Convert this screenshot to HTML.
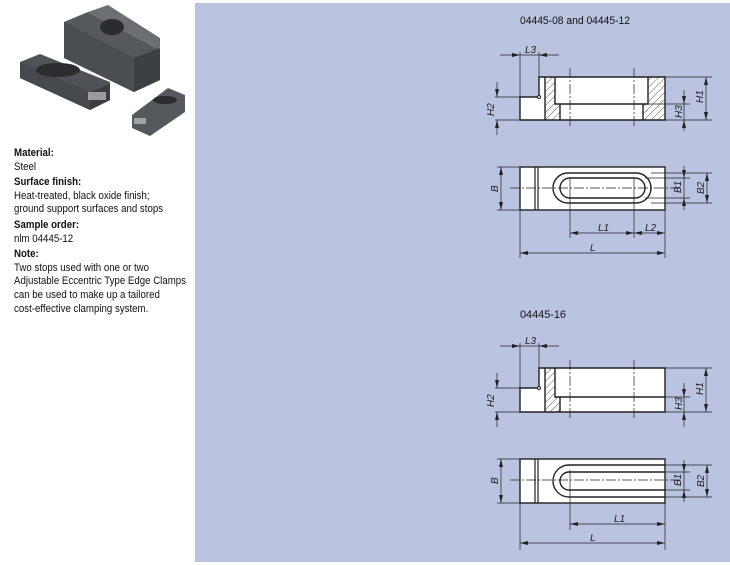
<!DOCTYPE html>
<html><head><meta charset="utf-8"><style>
body{margin:0;width:730px;height:565px;background:#fff;position:relative;overflow:hidden;font-family:"Liberation Sans",sans-serif;}
#panel{position:absolute;left:195px;top:3px;width:535px;height:559px;background:#bac4e1;}
#txt{position:absolute;left:14px;top:145px;font-size:11px;line-height:13.6px;color:#111;transform:scaleX(0.88);transform-origin:0 0;white-space:nowrap;}
#txt b{display:block;margin-top:2px;}
svg{position:absolute;left:0;top:0;}
</style></head><body>
<div id="panel"></div>
<svg width="195" height="145" viewBox="0 0 195 145">
 <polygon points="64,22 88,12 160,50 160,80 134,92 64,58" fill="#55585c"/>
 <polygon points="88,12 108,5 160,38 160,50" fill="#6b6e72"/>
 <polygon points="64,22 134,58 134,92 64,58" fill="#4a4d51"/>
 <polygon points="134,58 160,48 160,80 134,92" fill="#3c3f43"/>
 <ellipse cx="112" cy="27" rx="12" ry="8" fill="#2a2c2f"/>
 <polygon points="20,62 40,54 110,82 110,100 90,110 20,78" fill="#4f5256"/>
 <polygon points="20,62 90,92 90,110 20,78" fill="#45484c"/>
 <polygon points="90,92 110,84 110,100 90,110" fill="#3a3d41"/>
 <ellipse cx="58" cy="70" rx="22" ry="7" fill="#2b2d30"/>
 <rect x="88" y="92" width="18" height="8" fill="#9a9c9e"/>
 <polygon points="132,115 168,88 185,95 185,112 150,136 132,128" fill="#55585c"/>
 <ellipse cx="165" cy="100" rx="12" ry="4" fill="#2b2d30"/>
 <rect x="134" y="118" width="12" height="6" fill="#a0a2a4"/>
</svg>
<div id="txt">
<b>Material:</b>Steel
<b>Surface finish:</b>Heat-treated, black oxide finish;<br>ground support surfaces and stops
<b>Sample order:</b>nlm 04445-12
<b>Note:</b>Two stops used with one or two<br>Adjustable Eccentric Type Edge Clamps<br>can be used to make up a tailored<br>cost-effective clamping system.
</div>
<svg width="730" height="565" viewBox="0 0 730 565" font-family="Liberation Sans, sans-serif" font-size="10">
<defs>
<pattern id="h" width="5" height="5" patternUnits="userSpaceOnUse" patternTransform="rotate(45)"><line x1="0" y1="0" x2="0" y2="5" stroke="#333" stroke-width="0.8"/></pattern>
<marker id="a" markerWidth="8" markerHeight="6" refX="8" refY="3" orient="auto-start-reverse" markerUnits="userSpaceOnUse"><path d="M0,1 L8,3 L0,5Z" fill="#222"/></marker>
</defs>
<text x="520" y="24" font-size="11" fill="#111" textLength="110" lengthAdjust="spacingAndGlyphs">04445-08 and 04445-12</text>
<text x="520" y="318" font-size="11" fill="#111" textLength="46" lengthAdjust="spacingAndGlyphs">04445-16</text>
<g stroke="#222" fill="none">
<!-- TOP side view -->
<path d="M520,97 H539 V77 H665 V120 H520 Z" fill="#fff" stroke="none"/>
<rect x="545" y="77" width="10" height="43" fill="url(#h)" stroke="none"/>
<rect x="555" y="104" width="5" height="16" fill="url(#h)" stroke="none"/>
<rect x="648" y="77" width="17" height="43" fill="url(#h)" stroke="none"/>
<rect x="643" y="104" width="5" height="16" fill="url(#h)" stroke="none"/>
<path d="M520,97 H539 V77 H665 V120 H520 Z M555,77 V104 H648 V77 M560,120 V104 M643,120 V104 M545,77 V120" stroke-width="1.4"/>
<circle cx="539" cy="97" r="1.5" fill="#fff" stroke-width="1"/>
<g stroke-width="0.7">
<path d="M570,68 V128 M634,68 V128" stroke-dasharray="10,2,2,2"/>
<path d="M520,52 V97 M539,52 V77 M495,97 H520 M495,120 H520 M665,77 H712 M665,120 H712 M643,104 H690"/>
<path d="M500,55 H520" marker-end="url(#a)"/><path d="M559,55 H539" marker-end="url(#a)"/><path d="M520,55 H539"/>
<path d="M497,82 V97" marker-end="url(#a)"/><path d="M497,135 V120" marker-end="url(#a)"/>
<path d="M706,77 V120" marker-start="url(#a)" marker-end="url(#a)"/>
<path d="M684,90 V104" marker-end="url(#a)"/><path d="M684,131 V120" marker-end="url(#a)"/><path d="M684,104 V120"/>
</g>
<!-- TOP plan -->
<rect x="520" y="167" width="145" height="43" fill="#fff" stroke-width="1.4"/>
<path d="M535,167 V210 M538,167 V210" stroke-width="1.2"/>
<rect x="553" y="173" width="98" height="30" rx="15" stroke-width="1.4"/>
<rect x="560" y="178" width="85" height="20" rx="10" stroke-width="1.4"/>
<g stroke-width="0.7">
<path d="M510,188 H680" stroke-dasharray="10,2,2,2"/>
<path d="M570,178 V238 M634,178 V238 M520,210 V258 M665,210 V258"/>
<path d="M497,167 H520 M497,210 H520 M645,178 H690 M645,198 H690 M651,173 H712 M651,203 H712"/>
<path d="M501,167 V210" marker-start="url(#a)" marker-end="url(#a)"/>
<path d="M684,166 V178" marker-end="url(#a)"/><path d="M684,210 V198" marker-end="url(#a)"/><path d="M684,178 V198"/>
<path d="M707,173 V203" marker-start="url(#a)" marker-end="url(#a)"/>
<path d="M570,233 H634" marker-start="url(#a)" marker-end="url(#a)"/>
<path d="M634,233 H665" marker-start="url(#a)" marker-end="url(#a)"/>
<path d="M520,253 H665" marker-start="url(#a)" marker-end="url(#a)"/>
</g>
<!-- BOTTOM side -->
<path d="M520,388 H539 V368 H665 V412 H520 Z" fill="#fff" stroke="none"/>
<rect x="545" y="368" width="10" height="44" fill="url(#h)" stroke="none"/>
<rect x="555" y="397" width="5" height="15" fill="url(#h)" stroke="none"/>
<path d="M520,388 H539 V368 H665 V412 H520 Z M555,368 V397 H665 M560,412 V397 M545,368 V412" stroke-width="1.4"/>
<circle cx="539" cy="388" r="1.5" fill="#fff" stroke-width="1"/>
<g stroke-width="0.7">
<path d="M570,360 V420 M634,360 V420" stroke-dasharray="10,2,2,2"/>
<path d="M520,343 V388 M539,343 V368 M495,388 H520 M495,412 H520 M665,368 H712 M665,412 H712 M665,397 H690"/>
<path d="M500,346 H520" marker-end="url(#a)"/><path d="M559,346 H539" marker-end="url(#a)"/><path d="M520,346 H539"/>
<path d="M497,373 V388" marker-end="url(#a)"/><path d="M497,427 V412" marker-end="url(#a)"/>
<path d="M706,368 V412" marker-start="url(#a)" marker-end="url(#a)"/>
<path d="M684,383 V397" marker-end="url(#a)"/><path d="M684,427 V412" marker-end="url(#a)"/><path d="M684,397 V412"/>
</g>
<!-- BOTTOM plan -->
<rect x="520" y="459" width="145" height="44" fill="#fff" stroke-width="1.4"/>
<path d="M535,459 V503 M538,459 V503" stroke-width="1.2"/>
<path d="M665,465 H569 A16,16 0 0 0 569,497 H665" stroke-width="1.4"/>
<path d="M665,472 H569 A9,9 0 0 0 569,490 H665" stroke-width="1.4"/>
<g stroke-width="0.7">
<path d="M510,480 H680" stroke-dasharray="10,2,2,2"/>
<path d="M570,470 V530 M520,503 V550 M665,503 V550"/>
<path d="M497,459 H520 M497,503 H520 M665,472 H690 M665,490 H690 M665,465 H712 M665,497 H712"/>
<path d="M501,459 V503" marker-start="url(#a)" marker-end="url(#a)"/>
<path d="M684,460 V472" marker-end="url(#a)"/><path d="M684,502 V490" marker-end="url(#a)"/><path d="M684,472 V490"/>
<path d="M707,465 V497" marker-start="url(#a)" marker-end="url(#a)"/>
<path d="M570,524 H665" marker-start="url(#a)" marker-end="url(#a)"/>
<path d="M520,543 H665" marker-start="url(#a)" marker-end="url(#a)"/>
</g>
</g>
<g fill="#222" font-style="italic">
<text x="525" y="53">L3</text>
<text transform="translate(494,116) rotate(-90)">H2</text>
<text transform="translate(703,103) rotate(-90)">H1</text>
<text transform="translate(682,118) rotate(-90)">H3</text>
<text transform="translate(498,192) rotate(-90)">B</text>
<text transform="translate(681,193) rotate(-90)">B1</text>
<text transform="translate(704,194) rotate(-90)">B2</text>
<text x="598" y="231">L1</text>
<text x="645" y="231">L2</text>
<text x="590" y="251">L</text>
<text x="525" y="344">L3</text>
<text transform="translate(494,407) rotate(-90)">H2</text>
<text transform="translate(703,395) rotate(-90)">H1</text>
<text transform="translate(682,410) rotate(-90)">H3</text>
<text transform="translate(498,484) rotate(-90)">B</text>
<text transform="translate(681,486) rotate(-90)">B1</text>
<text transform="translate(704,487) rotate(-90)">B2</text>
<text x="614" y="522">L1</text>
<text x="590" y="541">L</text>
</g>
</svg>
</body></html>
